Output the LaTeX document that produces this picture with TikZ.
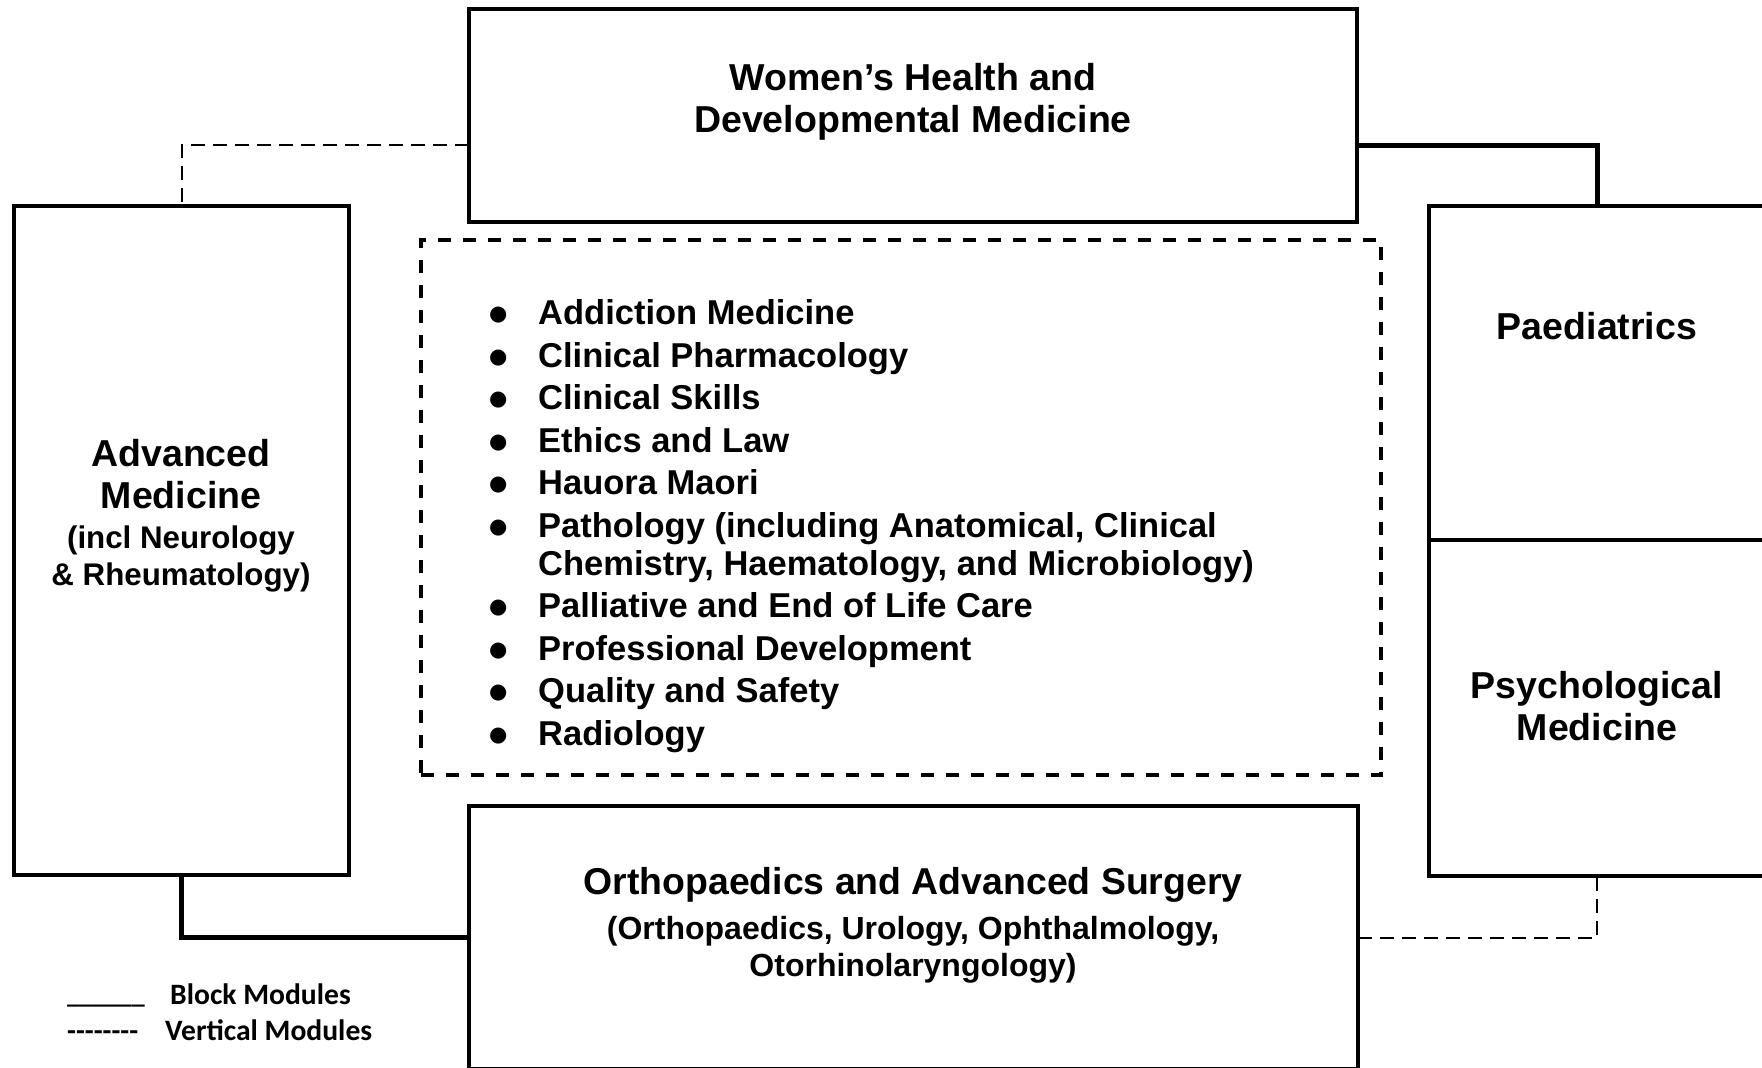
\documentclass[tikz,border=0pt]{standalone}
\usepackage{fontspec}
\setmainfont{Liberation Sans}
\newfontfamily\legendfont{Carlito}
\newfontfamily\bulletfont{DejaVu Sans}

\newcommand\fs[2]{\fontsize{#1}{#2}\selectfont}
\newcommand\stack[1]{\begin{tabular}[t]{@{}c@{}}#1\end{tabular}}
\newcommand\blt{\hspace*{-2.2pt}\raisebox{4pt}{\bulletfont\fs{21}{21}●}}
\newcommand\hy{-\kern0pt}

\begin{document}
\begin{tikzpicture}[x=1pt, y=-1pt,
    modbox/.style={draw, line width=3.3pt, inner sep=0pt, outer sep=0pt},
    corebox/.style={draw, line width=3.3pt, dash pattern=on 13pt off 12pt, inner sep=0pt, outer sep=0pt},
    blockline/.style={line width=5pt},
    vertline/.style={line width=2pt, dash pattern=on 14pt off 8pt},
    txt/.style={inner sep=0pt, anchor=base},
    legend/.style={inner sep=0pt, anchor=base west, font=\legendfont\bfseries\fs{29.6}{32}},
  ]
  \useasboundingbox (0,0) rectangle (1762,1068);
  \clip (0,0) rectangle (1762,1068);

  % module boxes
  \node[modbox, minimum width=888pt, minimum height=213pt] (womens) at (913,115.5) {};
  \node[modbox, minimum width=335pt, minimum height=669pt] (advanced) at (181.5,540.5) {};
  \node[modbox, minimum width=336pt, minimum height=334pt] (paed) at (1597,373) {};
  \node[modbox, minimum width=336pt, minimum height=336pt] (psych) at (1597,708) {};
  \node[modbox, minimum width=889pt, minimum height=263pt] (ortho) at (913.5,937.5) {};
  \node[corebox, minimum width=960pt, minimum height=535pt] (core) at (901,507.5) {};

  % box titles
  \node[txt, font=\bfseries\fs{37.5}{42.7}] (womenstxt) at (913,90)
    {\stack{Women’s Health and\\Developmental Medicine}};
  \node[txt, font=\bfseries\fs{37.5}{40}] (advancedtxt) at (181,466)
    {\stack{Advanced\\[2.5pt]Medicine\\[-0.1pt]{\fs{31.3}{35}(incl Neurology}\\[-3.1pt]{\fs{31.3}{35}\& Rheumatology)}}};
  \node[txt, font=\bfseries\fs{37.5}{40}] (paedtxt) at (1597,339) {Paediatrics};
  \node[txt, font=\bfseries\fs{37.5}{42.7}] (psychtxt) at (1597,698)
    {\stack{Psychological\\Medicine}};
  \node[txt, font=\bfseries\fs{37.4}{36.6}] (orthotxt) at (913,894)
    {\stack{Orthopaedics and Advanced Surgery\\[8.8pt]
      {\fs{32}{36.6}(Orthopaedics, Urology, Ophthalmology,}\\
      {\fs{32}{36.6}Otorhinolaryngology)}}};

  % common topics
  \node[inner sep=0pt, anchor=base west, font=\bfseries\fs{34.5}{38}] (topics) at (491,324.5) {%
    \begin{tabular}[t]{@{}p{47pt}@{}l@{}}
      \blt & Addiction Medicine\\[4.5pt]
      \blt & Clinical Pharmacology\\[4.5pt]
      \blt & Clinical Skills\\[4.5pt]
      \blt & Ethics and Law\\[4.5pt]
      \blt & Hauora Maori\\[4.5pt]
      \blt & Pathology (including Anatomical, Clinical\\
           & Chemistry, Haematology, and Microbiology)\\[4.5pt]
      \blt & Palliative and End of Life Care\\[4.5pt]
      \blt & Professional Development\\[4.5pt]
      \blt & Quality and Safety\\[4.5pt]
      \blt & Radiology
    \end{tabular}};

  % links between modules
  \draw[blockline] ([yshift=-29.5pt]womens.east) -| (paed.north);
  \draw[vertline] ([yshift=-29.5pt]womens.west) -| (advanced.north);
  \draw[blockline] (advanced.south) |- (ortho.west);
  \draw[vertline] (ortho.east) -| (psych.south);

  % legend
  \node[legend, font=\legendfont\bfseries\fs{26}{30}] (blocksample) at (67,1003.3) {\_\_\_\_\_\_};
  \node[legend] (blocklbl) at (170,1004.5) {Block Modules};
  \node[legend, font=\legendfont\bfseries\fs{29}{30}] (vertsample) at (67,1040) {\hy\hy\hy\hy\hy\hy\hy\hy};
  \node[legend] (vertlbl) at (165,1040) {Vertical Modules};
\end{tikzpicture}
\end{document}
